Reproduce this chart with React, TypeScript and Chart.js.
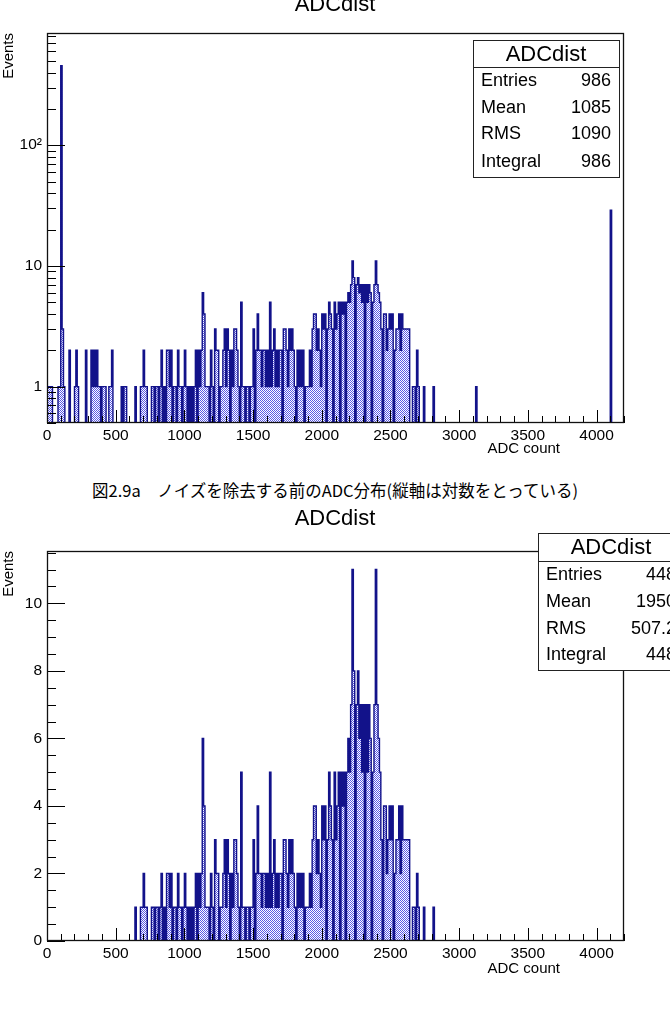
import React, { useEffect, useRef } from "react";
import { Chart, registerables } from "chart.js";

Chart.register(...registerables);

// ---------------- data ----------------
const BIN_WIDTH = 10;
const X_MIN = 0;
const X_MAX = 4200;

// counts per 10-ADC bin after noise removal, starting at ADC 600
const CLEAN_START = 600;
const cleanCounts: number[] = [
  // 600
  0, 0, 0, 0, 1, 0, 0, 0, 1, 1,
  // 700
  2, 1, 1, 0, 0, 0, 1, 1, 0, 1,
  // 800
  1, 0, 1, 2, 0, 1, 0, 2, 2, 1,
  // 900
  2, 0, 1, 1, 0, 2, 1, 1, 0, 1,
  // 1000
  2, 1, 0, 1, 0, 1, 0, 1, 2, 0,
  // 1100
  2, 1, 2, 6, 4, 1, 1, 1, 0, 2,
  // 1200
  1, 0, 3, 2, 2, 0, 1, 1, 2, 3,
  // 1300
  1, 3, 2, 0, 2, 1, 3, 3, 2, 1,
  // 1400
  0, 5, 1, 1, 0, 1, 1, 0, 1, 1,
  // 1500
  3, 0, 2, 4, 2, 2, 1, 2, 2, 1,
  // 1600
  2, 1, 5, 1, 2, 3, 1, 2, 1, 2,
  // 1700
  2, 0, 3, 3, 2, 1, 3, 2, 3, 2,
  // 1800
  1, 0, 2, 1, 2, 1, 2, 0, 1, 1,
  // 1900
  1, 2, 1, 3, 4, 4, 2, 3, 2, 1,
  // 2000
  4, 3, 4, 0, 3, 5, 4, 3, 0, 5,
  // 2100
  3, 4, 5, 0, 5, 4, 5, 0, 5, 6,
  // 2200
  5, 7, 11, 8, 0, 7, 8, 6, 7, 5,
  // 2300
  7, 0, 7, 5, 7, 6, 0, 5, 7, 11,
  // 2400
  7, 6, 5, 3, 0, 4, 4, 2, 3, 4,
  // 2500
  3, 4, 0, 2, 3, 3, 4, 2, 4, 3,
  // 2600
  3, 3, 3, 3, 0, 0, 1, 1, 0, 2,
  // 2700
  1, 0, 0, 0, 1, 0, 0, 0, 0, 0,
  // 2800
  0, 1, 0, 0, 0, 0, 0, 0, 0, 0,
];

// extra (noise) bins present only before noise removal: ADC lower edge, count
const noiseAdc: number[] = [
  0, 10, 20, 30, 80, 90, 100, 110, 120, 160, 200, 210, 220, 280, 320, 330,
  340, 350, 360, 370, 380, 400, 410, 420, 450, 460, 470, 540, 560, 570, 3120, 4100,
];
const noiseCounts: number[] = [
  1, 1, 1, 1, 1, 1, 455, 3, 1, 2, 1, 2, 1, 2, 2, 1,
  2, 1, 2, 1, 1, 1, 1, 1, 1, 1, 2, 1, 1, 1, 1, 29,
];

const xMajorTicks = [0, 500, 1000, 1500, 2000, 2500, 3000, 3500, 4000];
const yLogTicks = [1, 10, 100];
const yLogTickLabels = ["1", "10", "10\u00B2"];
const yLinTicks = [0, 2, 4, 6, 8, 10];

const chartTitle = "ADCdist";
const xTitle = "ADC count";
const yTitle = "Events";
const statLabels = ["Entries", "Mean", "RMS", "Integral"];
const statsBefore = ["986", "1085", "1090", "986"];
const statsAfter = ["448", "1950", "507.2", "448"];
const caption = "図2.9a\u3000ノイズを除去する前のADC分布(縦軸は対数をとっている)";

// ---------------- styles ----------------
const LINE_COLOR = "#12128a";
const DOT_COLOR = "#5a5ae6";
const FONT = '"Liberation Sans", Arial, Helvetica, sans-serif';

function buildCounts(withNoise: boolean): number[] {
  const n = Math.round((X_MAX - X_MIN) / BIN_WIDTH);
  const arr = new Array(n).fill(0);
  const off = Math.round(CLEAN_START / BIN_WIDTH);
  cleanCounts.forEach((c, i) => {
    arr[off + i] += c;
  });
  if (withNoise) {
    noiseAdc.forEach((a, k) => {
      arr[Math.floor(a / BIN_WIDTH)] += noiseCounts[k];
    });
  }
  return arr;
}

function toSteps(counts: number[], floor: number) {
  const pts = counts.map((c, i) => ({ x: X_MIN + i * BIN_WIDTH, y: c > 0 ? c : floor }));
  pts.push({ x: X_MIN + counts.length * BIN_WIDTH, y: floor });
  return pts;
}

function makePattern(): CanvasPattern | string {
  const pc = document.createElement("canvas");
  pc.width = 2;
  pc.height = 2;
  const g = pc.getContext("2d");
  if (!g) return DOT_COLOR;
  g.fillStyle = "#ffffff";
  g.fillRect(0, 0, 2, 2);
  g.fillStyle = DOT_COLOR;
  g.fillRect(0, 0, 1, 1);
  g.fillRect(1, 1, 1, 1);
  const p = g.createPattern(pc, "repeat");
  return p || DOT_COLOR;
}

type Layout = {
  log: boolean;
  height: number;
  plotTop: number;
  plotBottom: number;
  titleBaseline: number;
  box: { x: number; y: number; w: number; h: number; sep: number; rows: number[] };
  stats: string[];
  xTitleY: number;
};

function decorPlugin(L: Layout) {
  return {
    id: "rootDecor",
    afterDatasetsDraw(chart: any) {
      const { ctx, chartArea: a, scales } = chart;
      const xs = scales.x;
      const ys = scales.y;
      ctx.save();
      ctx.strokeStyle = "#000";
      ctx.lineWidth = 1;
      ctx.beginPath();
      for (let v = X_MIN; v <= X_MAX; v += 100) {
        const px = Math.round(xs.getPixelForValue(v)) + 0.5;
        const len = v % 500 === 0 ? 13 : 7;
        ctx.moveTo(px, a.bottom);
        ctx.lineTo(px, a.bottom - len);
      }
      if (L.log) {
        for (const d of [0.1, 1, 10, 100]) {
          for (let m = 1; m <= 9; m++) {
            const v = m * d;
            if (v < ys.min - 1e-9 || v > ys.max) continue;
            const py = Math.round(ys.getPixelForValue(v)) + 0.5;
            const len = m === 1 ? 18 : 9;
            ctx.moveTo(a.left, py);
            ctx.lineTo(a.left + len, py);
          }
        }
      } else {
        for (let v = 0; v <= ys.max + 1e-9; v += 0.5) {
          const py = Math.round(ys.getPixelForValue(v)) + 0.5;
          const len = Math.abs(v % 2) < 1e-9 ? 18 : 9;
          ctx.moveTo(a.left, py);
          ctx.lineTo(a.left + len, py);
        }
      }
      ctx.stroke();
      ctx.lineWidth = 1.3;
      ctx.strokeStyle = "#111";
      ctx.strokeRect(a.left + 0.5, a.top + 0.5, a.right - a.left - 1, a.bottom - a.top - 1);
      ctx.restore();
    },
    afterDraw(chart: any) {
      const { ctx, chartArea: a } = chart;
      ctx.save();
      ctx.fillStyle = "#000";
      ctx.font = `22px ${FONT}`;
      ctx.textAlign = "center";
      ctx.textBaseline = "alphabetic";
      ctx.fillText(chartTitle, 335, L.titleBaseline);
      ctx.font = `15px ${FONT}`;
      ctx.textAlign = "right";
      ctx.textBaseline = "middle";
      ctx.fillText(xTitle, 560, L.xTitleY);
      ctx.save();
      ctx.translate(9, a.top);
      ctx.rotate(-Math.PI / 2);
      ctx.textAlign = "right";
      ctx.textBaseline = "middle";
      ctx.fillText(yTitle, 0, 0);
      ctx.restore();
      const b = L.box;
      ctx.fillStyle = "#fff";
      ctx.fillRect(b.x, b.y, b.w, b.h);
      ctx.strokeStyle = "#222";
      ctx.lineWidth = 1;
      ctx.strokeRect(b.x + 0.5, b.y + 0.5, b.w, b.h);
      ctx.beginPath();
      ctx.moveTo(b.x, b.sep + 0.5);
      ctx.lineTo(b.x + b.w, b.sep + 0.5);
      ctx.stroke();
      ctx.fillStyle = "#000";
      ctx.font = `22px ${FONT}`;
      ctx.textAlign = "center";
      ctx.textBaseline = "middle";
      ctx.fillText(chartTitle, b.x + b.w / 2, (b.y + b.sep) / 2 + 1);
      ctx.font = `18px ${FONT}`;
      statLabels.forEach((lab, i) => {
        ctx.textAlign = "left";
        ctx.fillText(lab, b.x + 8, b.rows[i]);
        ctx.textAlign = "right";
        ctx.fillText(L.stats[i], b.x + b.w - 8, b.rows[i]);
      });
      ctx.restore();
    },
  };
}

function makeConfig(L: Layout, pattern: CanvasPattern | string): any {
  const counts = buildCounts(L.log);
  const data = toSteps(counts, L.log ? 0.1 : 0);
  const tickFont = { family: FONT, size: 15.5 };
  return {
    type: "line",
    data: {
      datasets: [
        {
          data,
          stepped: true,
          borderColor: LINE_COLOR,
          borderWidth: 1.4,
          backgroundColor: pattern,
          fill: "start",
          pointRadius: 0,
          tension: 0,
        },
      ],
    },
    options: {
      animation: false,
      responsive: false,
      events: [],
      layout: { padding: { top: L.plotTop, right: 46, left: 0, bottom: 0 } },
      plugins: {
        legend: { display: false },
        tooltip: { enabled: false },
        title: { display: false },
      },
      scales: {
        x: {
          type: "linear",
          min: X_MIN,
          max: X_MAX,
          grid: { display: false, drawTicks: false },
          border: { display: false },
          ticks: {
            font: tickFont,
            color: "#000",
            maxRotation: 0,
            autoSkip: false,
            includeBounds: false,
            padding: 3,
            callback: (v: number) => String(v),
          },
          afterBuildTicks: (s: any) => {
            s.ticks = xMajorTicks.map((v) => ({ value: v }));
          },
          afterFit: (s: any) => {
            s.height = L.height - L.plotBottom;
          },
        },
        y: L.log
          ? {
              type: "logarithmic",
              min: 0.5,
              max: 850,
              grid: { display: false, drawTicks: false },
              border: { display: false },
              ticks: {
                font: tickFont,
                color: "#000",
                padding: 5,
                autoSkip: false,
                callback: (v: number) => {
                  const i = yLogTicks.indexOf(Number(v));
                  return i >= 0 ? yLogTickLabels[i] : "";
                },
              },
              afterBuildTicks: (s: any) => {
                s.ticks = yLogTicks.map((v) => ({ value: v }));
              },
              afterFit: (s: any) => {
                s.width = 47;
              },
            }
          : {
              type: "linear",
              min: 0,
              max: 11.55,
              grid: { display: false, drawTicks: false },
              border: { display: false },
              ticks: {
                font: tickFont,
                color: "#000",
                padding: 5,
                autoSkip: false,
                callback: (v: number) => String(v),
              },
              afterBuildTicks: (s: any) => {
                s.ticks = yLinTicks.map((v) => ({ value: v }));
              },
              afterFit: (s: any) => {
                s.width = 47;
              },
            },
      },
    },
    plugins: [decorPlugin(L)],
  };
}

const TOP_H = 475;
const BOT_TOP = 500;
const BOT_H = 509;

const topLayout: Layout = {
  log: true,
  height: TOP_H,
  plotTop: 33,
  plotBottom: 423,
  titleBaseline: 11,
  box: { x: 473, y: 40, w: 146, h: 137, sep: 67, rows: [81, 108, 134, 162] },
  stats: statsBefore,
  xTitleY: 449,
};

const bottomLayout: Layout = {
  log: false,
  height: BOT_H,
  plotTop: 51,
  plotBottom: 441,
  titleBaseline: 25,
  box: { x: 538, y: 33, w: 146, h: 137, sep: 61, rows: [75, 102, 129, 155] },
  stats: statsAfter,
  xTitleY: 469,
};

function HistCanvas({ layout, top }: { layout: Layout; top: number }) {
  const ref = useRef<HTMLCanvasElement | null>(null);
  useEffect(() => {
    const c = ref.current;
    if (!c) return;
    const chart = new Chart(c, makeConfig(layout, makePattern()));
    return () => chart.destroy();
  }, [layout]);
  return (
    <canvas
      ref={ref}
      width={670}
      height={layout.height}
      style={{ position: "absolute", left: 0, top, width: 670, height: layout.height }}
    />
  );
}

export default function App() {
  useEffect(() => {
    document.body.style.margin = "0";
    document.body.style.background = "#fff";
  }, []);
  return (
    <div style={{ position: "relative", width: 670, height: 1009, overflow: "hidden", background: "#fff" }}>
      <HistCanvas layout={topLayout} top={0} />
      <div
        style={{
          position: "absolute",
          left: 0,
          top: 479,
          width: 670,
          height: 22,
          lineHeight: "22px",
          textAlign: "center",
          fontFamily: '"Noto Sans CJK JP", sans-serif',
          fontSize: 16.5,
          color: "#000",
          whiteSpace: "nowrap",
        }}
      >
        {caption}
      </div>
      <HistCanvas layout={bottomLayout} top={BOT_TOP} />
    </div>
  );
}
